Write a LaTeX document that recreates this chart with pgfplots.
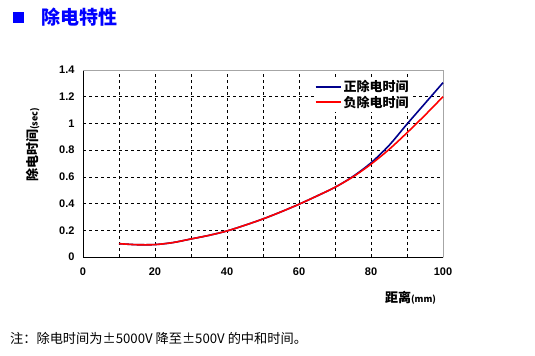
\documentclass[border=0pt]{standalone}
\usepackage{pgfplots}
\pgfplotsset{compat=1.18}
\usepackage{fontspec}
\setmainfont{Liberation Sans}
\newfontfamily\cjk{Noto Sans CJK SC}
\definecolor{navyline}{RGB}{0,0,140}
\definecolor{titleblue}{RGB}{0,0,255}
\begin{document}
\begin{tikzpicture}
\path[use as bounding box] (0bp,0bp) rectangle (535bp,356bp);
\fill[titleblue] (13bp,333bp) rectangle (24bp,344bp);
\node[anchor=west,text=titleblue,font=\cjk\bfseries\fontsize{19bp}{21bp}\selectfont,inner sep=0pt] at (41bp,339bp) {除电特性};
\node[anchor=west,font=\cjk\fontsize{13.2bp}{15bp}\selectfont,inner sep=0pt] at (10bp,18bp) {注：除电时间为±5000V 降至±500V 的中和时间。};
\begin{axis}[
  at={(83bp,99bp)}, anchor=south west,
  scale only axis, width=360bp, height=187bp,
  xmin=0, xmax=100, ymin=0, ymax=1.4,
  xtick={0,20,...,100}, minor xtick={10,30,50,70,90},
  ytick={0,0.2,...,1.4},
  yticklabels={0,0.2,0.4,0.6,0.8,1,1.2,1.4},
  grid=both,
  major grid style={black, line width=0.5pt, dash pattern=on 3bp off 3bp},
  minor grid style={black, line width=0.5pt, dash pattern=on 3bp off 3bp},
  major tick length=0pt, minor tick length=0pt,
  axis line style={black, line width=0.8pt},
  axis x line*=bottom, axis y line*=left,
  tick label style={font=\bfseries\fontsize{11bp}{13bp}\selectfont},
  xticklabel style={yshift=-7bp},
  yticklabel style={xshift=-5bp},
  /pgf/number format/assume math mode=true,
  xlabel={\cjk\bfseries 距离\fontsize{9bp}{10bp}\selectfont(mm)},
  xlabel style={font=\cjk\bfseries\fontsize{13bp}{15bp}\selectfont, at={(axis description cs:0.91,-0.22)}, anchor=center},
  ylabel={\cjk\bfseries 除电时间\fontsize{9bp}{10bp}\selectfont(sec)},
  ylabel style={font=\cjk\bfseries\fontsize{13bp}{15bp}\selectfont, at={(axis description cs:-0.139,0.6)}, anchor=center},
  legend style={at={(axis description cs:0.64,0.96)}, anchor=north west, draw=none, fill=white,
    font=\cjk\bfseries\fontsize{13bp}{15bp}\selectfont, inner sep=1pt, row sep=-1.5bp},
  legend cell align=left,
  legend image code/.code={\draw[#1, line width=2pt] (0bp,0bp) -- (25bp,0bp);},
  clip=false,
]
\draw[gray!70, line width=0.8pt] (axis cs:0,1.4) -- (axis cs:100,1.4) -- (axis cs:100,0);
\addplot[navyline, line width=1.6pt, smooth] coordinates {
(10,0.100) (15,0.092) (20,0.093) (25,0.108) (30,0.135) (35,0.162) (40,0.195) (45,0.238) (50,0.285) (55,0.338) (60,0.395) (65,0.457) (70,0.522) (75,0.603) (80,0.705) (85,0.835) (90,0.995) (95,1.150) (100,1.305)};
\addlegendentry{正除电时间}
\addplot[red, line width=1.6pt, smooth] coordinates {
(10,0.100) (15,0.092) (20,0.093) (25,0.108) (30,0.135) (35,0.162) (40,0.195) (45,0.238) (50,0.285) (55,0.338) (60,0.395) (65,0.457) (70,0.522) (75,0.600) (80,0.695) (85,0.805) (90,0.930) (95,1.062) (100,1.200)};
\addlegendentry{负除电时间}
\end{axis}
\end{tikzpicture}
\end{document}
